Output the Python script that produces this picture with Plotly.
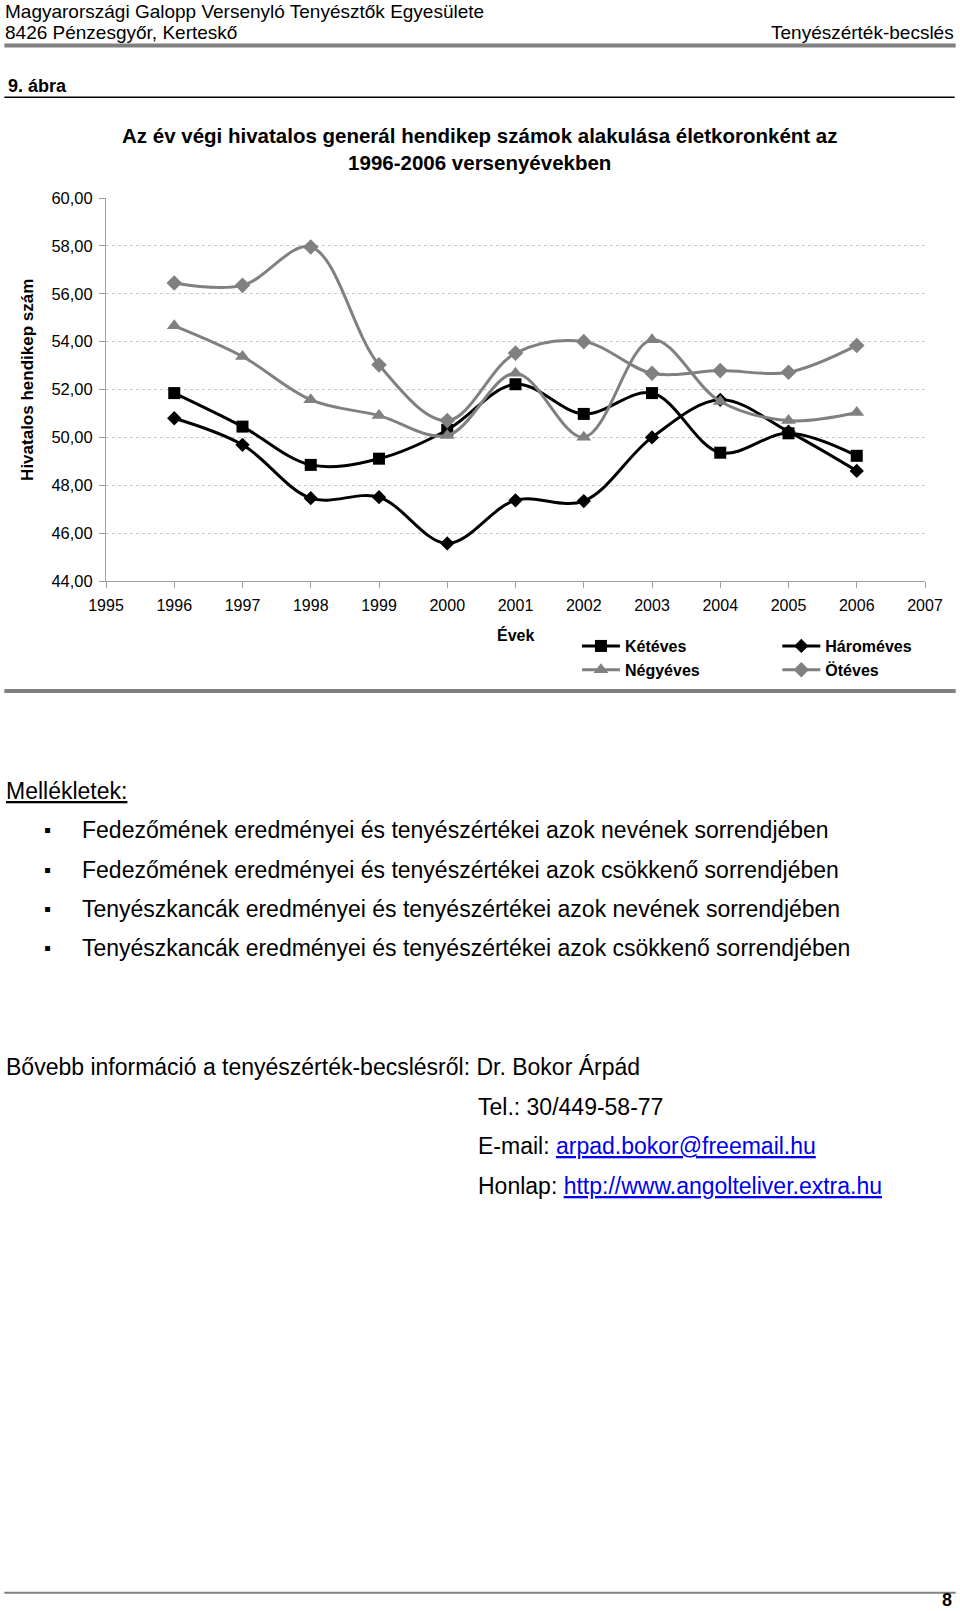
import plotly.graph_objects as go

# ---- data ----
years = [1996, 1997, 1998, 1999, 2000, 2001, 2002, 2003, 2004, 2005, 2006]
ketéves = [51.85, 50.45, 48.85, 49.11, 50.31, 52.22, 50.98, 51.85, 49.36, 50.17, 49.23]
harom = [50.80, 49.69, 47.46, 47.50, 45.57, 47.37, 47.34, 50.00, 51.57, 50.24, 48.60]
negy = [54.66, 53.38, 51.57, 50.91, 50.08, 52.68, 50.01, 54.08, 51.50, 50.70, 51.04]
ot = [56.45, 56.35, 57.95, 53.03, 50.70, 53.52, 54.00, 52.68, 52.79, 52.72, 53.84]
series_names = ["Kétéves", "Hároméves", "Négyéves", "Ötéves"]
x_ticks = list(range(1995, 2008))
y_ticks = [44, 46, 48, 50, 52, 54, 56, 58, 60]
y_tick_labels = ["44,00", "46,00", "48,00", "50,00", "52,00", "54,00", "56,00", "58,00", "60,00"]

chart_title = "Az év végi hivatalos generál hendikep számok alakulása életkoronként az<br>1996-2006 versenyévekben"
y_title = "Hivatalos hendikep szám"
x_title = "Évek"
bullets = [
    "Fedezőmének eredményei és tenyészértékei azok nevének sorrendjében",
    "Fedezőmének eredményei és tenyészértékei azok csökkenő sorrendjében",
    "Tenyészkancák eredményei és tenyészértékei azok nevének sorrendjében",
    "Tenyészkancák eredményei és tenyészértékei azok csökkenő sorrendjében",
]

# ---- geometry (pixels) ----
W, H = 960, 1611
L, R, T, B = 105.7, 925.3, 198.3, 581.0
FONT = "Liberation Sans, Arial, sans-serif"
GRAY = "#808080"


def px(x):
    return (x - L) / (R - L)


def py(y):
    return (B - y) / (B - T)


fig = go.Figure()
styles = [
    dict(color="black", symbol="square", size=12, legend="legend"),
    dict(color="black", symbol="diamond", size=11, legend="legend2"),
    dict(color=GRAY, symbol="triangle-up", size=13, legend="legend"),
    dict(color=GRAY, symbol="diamond", size=12, legend="legend2"),
]
for name, vals, st in zip(series_names, [ketéves, harom, negy, ot], styles):
    fig.add_trace(go.Scatter(
        x=years, y=vals, name=name, mode="lines+markers",
        line=dict(color=st["color"], width=3, shape="spline", smoothing=1),
        marker=dict(color=st["color"], symbol=st["symbol"], size=st["size"]),
        legend=st["legend"],
    ))

annotations = []


def text(x, y, s, size, bold=False, xanchor="left", color="black", angle=0):
    if bold:
        s = "<b>" + s + "</b>"
    annotations.append(dict(
        x=px(x), y=py(y), xref="paper", yref="paper", text=s, showarrow=False,
        xanchor=xanchor, yanchor="middle", textangle=angle,
        font=dict(family=FONT, size=size, color=color),
    ))


text(3, 11.5, "Magyarországi Galopp Versenyló Tenyésztők Egyesülete", 19)
text(3, 33, "8426 Pénzesgyőr, Kertesků".replace("ů", "ő"), 19)
text(956, 33, "Tenyészérték-becslés", 19, xanchor="right")
text(6, 86.3, "9. ábra", 18, bold=True)
annotations.append(dict(
    x=px(480), y=py(149), xref="paper", yref="paper", text="<b>" + chart_title + "</b>",
    showarrow=False, xanchor="center", yanchor="middle", align="center",
    font=dict(family=FONT, size=20.5, color="black"),
))
text(27.7, 380, y_title, 17, bold=True, xanchor="center", angle=-90)
text(515.5, 635, x_title, 16, bold=True, xanchor="center")

text(4, 790.4, '<span style="text-decoration:underline">Mellékletek:</span>', 23)
for yy, b in zip([829.4, 869.5, 908.6, 947.6], bullets):
    text(42, yy, "▪", 20)
    text(80, yy, b, 23)

text(4, 1067, "Bővebb információ a tenyészérték-becslésről: Dr. Bokor Árpád", 23)
text(476, 1107, "Tel.: 30/449-58-77", 23)
text(476, 1146, 'E-mail: <span style="color:#0000ee;text-decoration:underline">arpad.bokor@freemail.hu</span>', 23)
text(476, 1186, 'Honlap: <span style="color:#0000ee;text-decoration:underline">http://www.angolteliver.extra.hu</span>', 23)
text(954, 1599, "8", 18, bold=True, xanchor="right")

shapes = [
    dict(type="line", xref="paper", yref="paper", x0=px(4), x1=px(956), y0=py(46), y1=py(46),
         line=dict(color=GRAY, width=4)),
    dict(type="line", xref="paper", yref="paper", x0=px(4), x1=px(955), y0=py(97.6), y1=py(97.6),
         line=dict(color="black", width=1.5)),
    dict(type="line", xref="paper", yref="paper", x0=px(4), x1=px(956), y0=py(691), y1=py(691),
         line=dict(color=GRAY, width=4)),
    dict(type="line", xref="paper", yref="paper", x0=px(4), x1=px(956), y0=py(1592), y1=py(1592),
         line=dict(color=GRAY, width=2)),
]

legend_style = dict(
    orientation="v", xanchor="left", yanchor="top", xref="paper", yref="paper",
    font=dict(family=FONT, size=16, color="black", weight="bold"),
    bgcolor="rgba(0,0,0,0)", borderwidth=0, tracegroupgap=0, itemwidth=38,
)

fig.update_layout(
    width=W, height=H, autosize=False,
    margin=dict(l=L, r=W - R, t=T, b=H - B, pad=0),
    paper_bgcolor="white", plot_bgcolor="white",
    font=dict(family=FONT, color="black"),
    showlegend=True,
    legend=dict(x=px(577), y=py(629), **legend_style),
    legend2=dict(x=px(777.5), y=py(629), **legend_style),
    annotations=annotations,
    shapes=shapes,
    xaxis=dict(
        range=[1995, 2007], tickmode="array", tickvals=x_ticks,
        ticktext=[str(v) for v in x_ticks], showgrid=False, zeroline=False,
        showline=True, linecolor="#a0a0a0", linewidth=1,
        ticks="outside", ticklen=6, tickcolor="#a0a0a0", ticklabelstandoff=4,
        tickfont=dict(family=FONT, size=16, color="black"),
    ),
    yaxis=dict(
        range=[44, 60], tickmode="array", tickvals=y_ticks, ticktext=y_tick_labels,
        showgrid=True, gridcolor="#c8c8c8", griddash="3px,3px", gridwidth=1,
        zeroline=False, showline=True, linecolor="#a0a0a0", linewidth=1,
        ticks="outside", ticklen=6, tickcolor="#a0a0a0", ticklabelstandoff=3,
        tickfont=dict(family=FONT, size=16.5, color="black"),
    ),
)

fig.write_html("out.html", config={"displayModeBar": False},
               post_script="document.body.style.margin='0';")
